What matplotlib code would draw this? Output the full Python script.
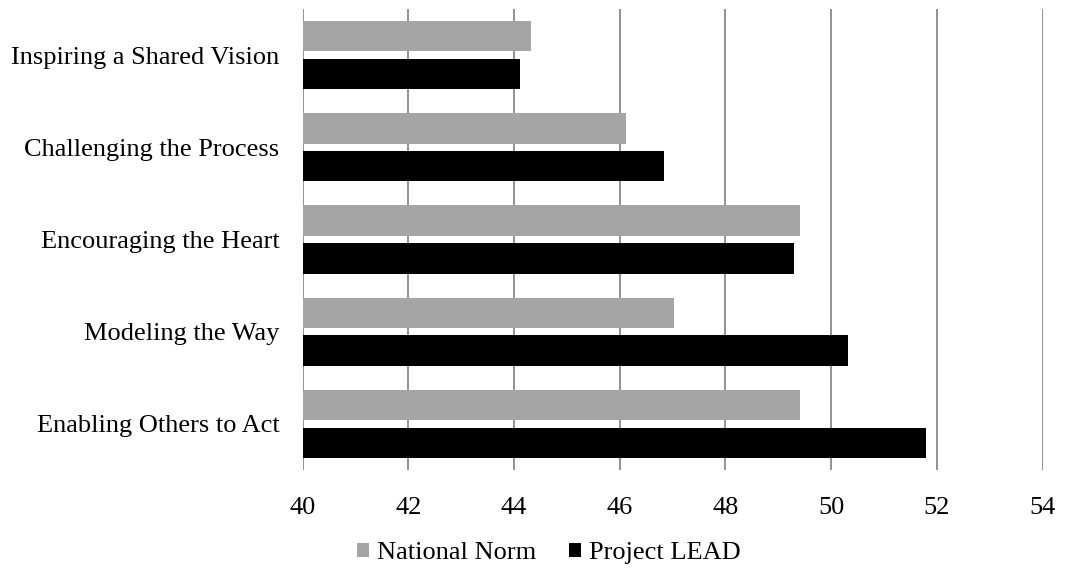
import numpy as np
import matplotlib
matplotlib.use('Agg')
import matplotlib.pyplot as plt

# practice scores, listed top to bottom as they appear
categories = ['Inspiring a Shared Vision', 'Challenging the Process',
              'Encouraging the Heart', 'Modeling the Way', 'Enabling Others to Act']
national_norm = [44.33, 46.12, 49.41, 47.02, 49.41]
project_lead = [44.12, 46.84, 49.30, 50.31, 51.79]
xticks = [40, 42, 44, 46, 48, 50, 52, 54]

plt.rcParams['font.family'] = ['Liberation Serif', 'DejaVu Serif']

fig = plt.figure(figsize=(10.66, 5.70), dpi=100)
ax = fig.add_axes([0.2838, 0.1754, 0.6942, 0.8088])

y = np.arange(len(categories))
h = 0.33
off = 0.205
ax.barh(y - off, np.array(national_norm) - 40, left=40, height=h,
        color='#a5a5a5', label='National Norm', zorder=3)
ax.barh(y + off, np.array(project_lead) - 40, left=40, height=h,
        color='#000000', label='Project LEAD', zorder=3)

ax.set_xlim(40, 54)
ax.set_ylim(len(categories) - 0.5, -0.5)
ax.set_xticks(xticks)
ax.set_yticks(y)
ax.set_yticklabels(categories)
ax.tick_params(axis='both', length=0, labelsize=19, colors='#000000')
ax.tick_params(axis='y', pad=16.5)
ax.tick_params(axis='x', pad=19.5)

ax.grid(axis='x', color='#808080', linewidth=1.2, zorder=0)
for s in ax.spines.values():
    s.set_visible(False)

fig.legend(loc='center', bbox_to_anchor=(549 / 1066, 1 - 553 / 570), ncol=2,
           frameon=False, fontsize=19, handlelength=0.45, handleheight=0.45,
           handletextpad=0.3, columnspacing=1.25)

fig.savefig('out.png', dpi=100)
